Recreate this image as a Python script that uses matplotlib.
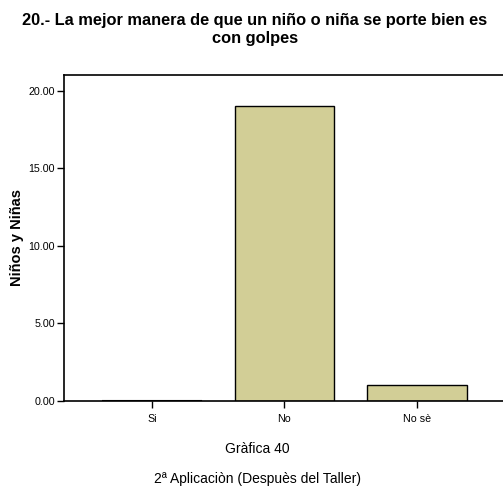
import matplotlib
matplotlib.use("Agg")
import matplotlib.pyplot as plt

categories = ["Si", "No", "No sè"]
values = [0, 19, 1]
yticks = [0, 5, 10, 15, 20]

plt.rcParams['font.family'] = ['Liberation Sans', 'DejaVu Sans']

W, H = 503, 487
fig = plt.figure(figsize=(W/100, H/100), dpi=100)
ax = fig.add_axes([64/W, 1-401/H, (503-64)/W, (401-74.7)/H])

x = list(range(len(categories)))
ax.bar(x, values, width=0.75, color='#D2CE96', edgecolor='black', linewidth=1.0)
# zero-height bar drawn as a line
for xi, v in zip(x, values):
    if v == 0:
        ax.plot([xi-0.375, xi+0.375], [0, 0], color='black', lw=1.5, solid_capstyle='butt', zorder=3)

ax.set_xlim(-0.664, 2.649)
ax.set_ylim(0, 21.05)
ax.set_yticks(yticks)
ax.set_yticklabels([f"{t:.2f}" for t in yticks], fontsize=7.7)
ax.set_xticks(x)
ax.set_xticklabels(categories, fontsize=7.7)
ax.tick_params(axis='both', direction='out', length=5, width=1, color='black', pad=1.5)
ax.tick_params(axis='x', pad=4)
for s in ['left', 'top', 'bottom']:
    ax.spines[s].set_linewidth(1.2)
ax.spines['right'].set_visible(False)

ax.set_ylabel("Niños y Niñas", fontsize=10.5, fontweight='bold', labelpad=3)

fig.text(255/W, 1-29.5/H, "20.- La mejor manera de que un niño o niña se porte bien es\ncon golpes",
         ha='center', va='center', fontsize=11.8, fontweight='bold', linespacing=1.3)
fig.text(257/W, 1-449/H, "Gràfica 40", ha='center', va='center', fontsize=10)
fig.text(258/W, 1-479/H, "2ª Aplicaciòn (Despuès del Taller)", ha='center', va='center', fontsize=10)

fig.savefig("out.png", dpi=100)
